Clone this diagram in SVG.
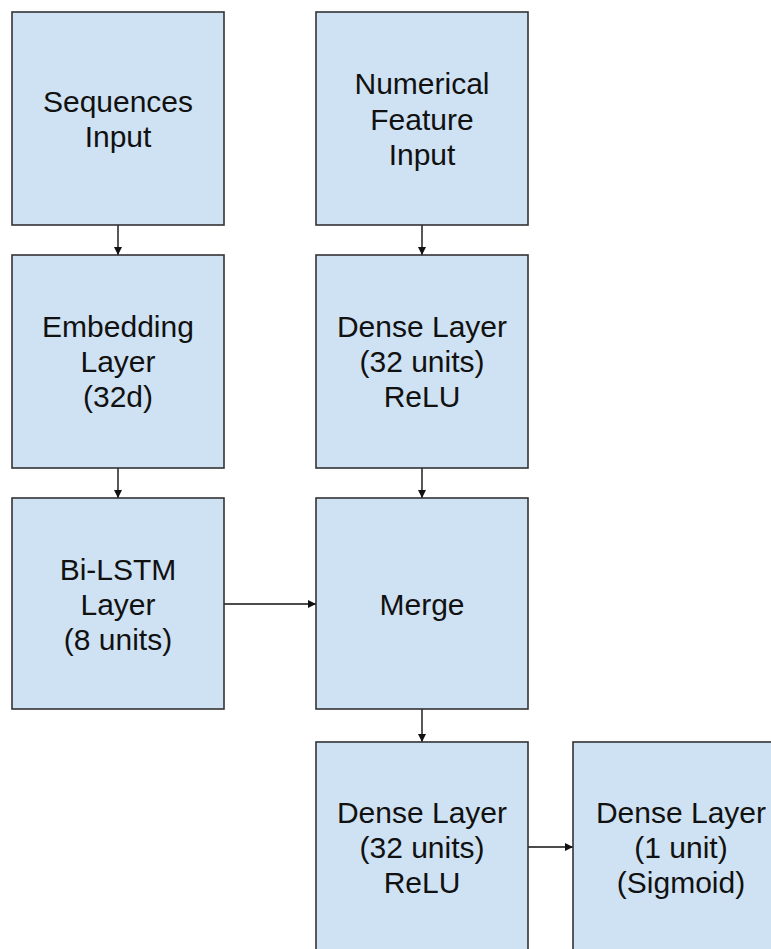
<svg xmlns="http://www.w3.org/2000/svg" width="771" height="949" viewBox="0 0 771 949">
  <style>
    .box { fill: #cfe2f3; stroke: #333333; stroke-width: 1.6; }
    .lbl { font-family: "Liberation Sans", Arial, sans-serif; font-size: 30px; fill: #111111; text-anchor: middle; }
    .wire { stroke: #111111; stroke-width: 1.4; fill: none; marker-end: url(#head); }
  </style>
  <defs>
    <marker id="head" viewBox="0 0 10 10" refX="10" refY="5" markerWidth="10" markerHeight="8" markerUnits="userSpaceOnUse" orient="auto">
      <path d="M0,0 L10,5 L0,10 z" fill="#111111"/>
    </marker>
  </defs>
  <rect width="771" height="949" fill="#ffffff"/>

  <g id="connectors">
    <line class="wire" x1="118" y1="225" x2="118" y2="255"/>
    <line class="wire" x1="118" y1="468" x2="118" y2="498"/>
    <line class="wire" x1="422" y1="225" x2="422" y2="255"/>
    <line class="wire" x1="422" y1="468" x2="422" y2="498"/>
    <line class="wire" x1="224" y1="604" x2="316" y2="604"/>
    <line class="wire" x1="422" y1="709" x2="422" y2="742"/>
    <line class="wire" x1="528" y1="847" x2="573" y2="847"/>
  </g>

  <g id="sequences-input">
    <rect class="box" x="12" y="12" width="212" height="213"/>
    <text class="lbl" x="118" y="112">Sequences</text>
    <text class="lbl" x="118" y="147">Input</text>
  </g>

  <g id="numerical-input">
    <rect class="box" x="316" y="12" width="212" height="213"/>
    <text class="lbl" x="422" y="94">Numerical</text>
    <text class="lbl" x="422" y="129.5">Feature</text>
    <text class="lbl" x="422" y="165">Input</text>
  </g>

  <g id="embedding-layer">
    <rect class="box" x="12" y="255" width="212" height="213"/>
    <text class="lbl" x="118" y="337">Embedding</text>
    <text class="lbl" x="118" y="372">Layer</text>
    <text class="lbl" x="118" y="407">(32d)</text>
  </g>

  <g id="dense-32-a">
    <rect class="box" x="316" y="255" width="212" height="213"/>
    <text class="lbl" x="422" y="337">Dense Layer</text>
    <text class="lbl" x="422" y="372">(32 units)</text>
    <text class="lbl" x="422" y="407">ReLU</text>
  </g>

  <g id="bilstm-layer">
    <rect class="box" x="12" y="498" width="212" height="211"/>
    <text class="lbl" x="118" y="580">Bi-LSTM</text>
    <text class="lbl" x="118" y="615">Layer</text>
    <text class="lbl" x="118" y="650">(8 units)</text>
  </g>

  <g id="merge">
    <rect class="box" x="316" y="498" width="212" height="211"/>
    <text class="lbl" x="422" y="615">Merge</text>
  </g>

  <g id="dense-32-b">
    <rect class="box" x="316" y="742" width="212" height="213"/>
    <text class="lbl" x="422" y="823">Dense Layer</text>
    <text class="lbl" x="422" y="858">(32 units)</text>
    <text class="lbl" x="422" y="893">ReLU</text>
  </g>

  <g id="dense-1-sigmoid">
    <rect class="box" x="573" y="742" width="212" height="213"/>
    <text class="lbl" x="681" y="823">Dense Layer</text>
    <text class="lbl" x="681" y="858">(1 unit)</text>
    <text class="lbl" x="681" y="893">(Sigmoid)</text>
  </g>
</svg>
